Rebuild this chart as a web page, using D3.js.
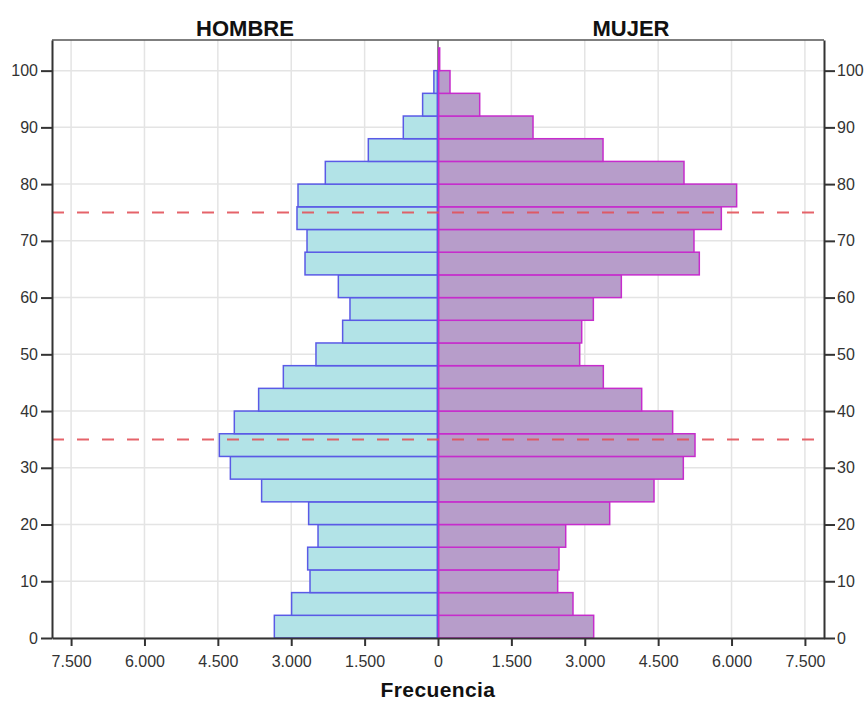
<!DOCTYPE html>
<html>
<head>
<meta charset="utf-8">
<script src="https://cdn.jsdelivr.net/npm/d3@7"></script>
<style>
  body { margin: 0; background: #fff; }
  svg { display: block; }
  .tick text { font-family: "Liberation Sans", Arial, sans-serif; font-size: 16px; fill: #333; }
  .title { font-family: "Liberation Sans", Arial, sans-serif; font-weight: bold; font-size: 22px; fill: #111; }
</style>
</head>
<body>
<script>
// age bins (start of each 4 year band)
var ageBins = [0, 4, 8, 12, 16, 20, 24, 28, 32, 36, 40, 44, 48, 52, 56, 60, 64, 68, 72, 76, 80, 84, 88, 92, 96, 100];
var hombre = [3331, 2978, 2602, 2650, 2438, 2630, 3591, 4230, 4455, 4149, 3652, 3147, 2480, 1935, 1785, 2023, 2704, 2663, 2868, 2847, 2289, 1410, 695, 300, 70, 0];
var mujer = [3168, 2745, 2432, 2459, 2596, 3495, 4401, 5000, 5239, 4782, 4149, 3365, 2882, 2923, 3161, 3733, 5327, 5218, 5777, 6090, 5014, 3359, 1928, 838, 231, 20];
var binWidth = 4;
var refLines = [35, 75];
var xTicks = [-7500, -6000, -4500, -3000, -1500, 0, 1500, 3000, 4500, 6000, 7500];
var yTicks = [0, 10, 20, 30, 40, 50, 60, 70, 80, 90, 100];
var panelTitles = ["HOMBRE", "MUJER"];
var xTitle = "Frecuencia";

var margin = {top: 40, right: 42, bottom: 66, left: 52},
    width = 866 - margin.left - margin.right,
    height = 704 - margin.top - margin.bottom;

var x = d3.scaleLinear().domain([-7890, 7890]).range([0, width]);
var y = d3.scaleLinear().domain([0, 105.4]).range([height, 0]);

var loc = d3.formatLocale({decimal: ",", thousands: ".", grouping: [3], currency: ["", ""]});
var fmt = loc.format(",");

var svg = d3.select("body").append("svg")
    .attr("width", 866)
    .attr("height", 704)
  .append("g")
    .attr("transform", "translate(" + margin.left + "," + margin.top + ")");

// GRID
svg.selectAll(".vgrid")
    .data(xTicks)
    .enter().append("line")
    .attr("x1", function(d) { return x(d); })
    .attr("x2", function(d) { return x(d); })
    .attr("y1", 0).attr("y2", height)
    .attr("stroke", "#e4e4e4").attr("stroke-width", 1.5);

svg.selectAll(".hgrid")
    .data(yTicks)
    .enter().append("line")
    .attr("x1", 0).attr("x2", width)
    .attr("y1", function(d) { return y(d); })
    .attr("y2", function(d) { return y(d); })
    .attr("stroke", "#e4e4e4").attr("stroke-width", 1.5);

// panel divider
svg.append("line")
    .attr("x1", x(0)).attr("x2", x(0))
    .attr("y1", 0).attr("y2", height)
    .attr("stroke", "#222").attr("stroke-width", 1);

// BARS
var males = ageBins.map(function(a, i) { return {age: a, v: hombre[i]}; });
var females = ageBins.map(function(a, i) { return {age: a, v: mujer[i]}; });

svg.selectAll(".male")
    .data(males.filter(function(d) { return d.v > 0; }))
    .enter().append("rect")
    .attr("x", function(d) { return x(-d.v) - 0.7; })
    .attr("width", function(d) { return x(0) - x(-d.v); })
    .attr("y", function(d) { return y(d.age + binWidth); })
    .attr("height", function(d) { return y(d.age) - y(d.age + binWidth); })
    .attr("fill", "#b2e3e7")
    .attr("stroke", "#5a5ae6")
    .attr("stroke-width", 1.5);

svg.selectAll(".female")
    .data(females)
    .enter().append("rect")
    .attr("x", x(0) + 0.7)
    .attr("width", function(d) { return x(d.v) - x(0); })
    .attr("y", function(d) { return y(d.age + binWidth); })
    .attr("height", function(d) { return y(d.age) - y(d.age + binWidth); })
    .attr("fill", "#b79dca")
    .attr("stroke", "#c62ccc")
    .attr("stroke-width", 1.5);

// REFERENCE LINES
svg.selectAll(".ref")
    .data(refLines)
    .enter().append("line")
    .attr("x1", 0).attr("x2", width)
    .attr("y1", function(d) { return y(d); })
    .attr("y2", function(d) { return y(d); })
    .attr("stroke", "#e2525a")
    .attr("stroke-width", 2)
    .attr("stroke-opacity", 0.9)
    .attr("stroke-dasharray", "12,13");

// frame top
svg.append("line")
    .attr("x1", 0).attr("x2", width)
    .attr("y1", 0).attr("y2", 0)
    .attr("stroke", "#555").attr("stroke-width", 1.5);

// AXIS
var yl = svg.append("g")
    .call(d3.axisLeft(y).tickValues(yTicks).tickSize(11).tickPadding(3).tickSizeOuter(0));
var yr = svg.append("g")
    .attr("transform", "translate(" + width + ",0)")
    .call(d3.axisRight(y).tickValues(yTicks).tickSize(11).tickPadding(2).tickSizeOuter(0));
var xb = svg.append("g")
    .attr("transform", "translate(0," + height + ")")
    .call(d3.axisBottom(x).tickValues(xTicks).tickSize(8).tickPadding(10).tickSizeOuter(0)
        .tickFormat(function(d) { return fmt(Math.abs(d)); }));

[yl, yr, xb].forEach(function(g) {
    g.select(".domain").attr("stroke", "#333").attr("stroke-width", 2);
    g.selectAll(".tick line").attr("stroke", "#333").attr("stroke-width", 2);
});

// TITLES
svg.selectAll(".ptitle")
    .data(panelTitles)
    .enter().append("text")
    .attr("class", "title")
    .attr("x", function(d, i) { return i === 0 ? x(-7890) / 2 + x(0) / 2 : (x(0) + x(7890)) / 2; })
    .attr("y", -4)
    .attr("text-anchor", "middle")
    .text(function(d) { return d; });

svg.append("text")
    .attr("class", "title")
    .attr("x", x(0))
    .attr("y", height + 59)
    .attr("text-anchor", "middle")
    .style("font-size", "21px")
    .style("letter-spacing", "0.4px")
    .text(xTitle);
</script>
</body>
</html>
